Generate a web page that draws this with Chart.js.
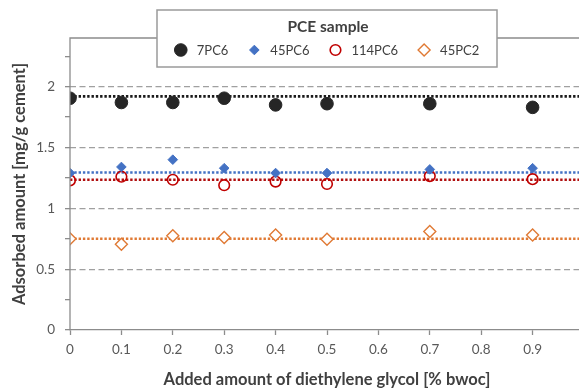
<!DOCTYPE html>
<html>
<head>
<meta charset="utf-8">
<script src="https://cdn.jsdelivr.net/npm/chart.js@4/dist/chart.umd.min.js"></script>
<style>
  html, body { margin: 0; padding: 0; background: #fff; overflow: hidden; }
  #wrap { position: relative; width: 600px; height: 390px; }
</style>
</head>
<body>
<div id="wrap"><canvas id="adsChart"></canvas></div>
<script>
// values
const doses = [0, 0.1, 0.2, 0.3, 0.4, 0.5, 0.7, 0.9];
const pc7 = [1.905, 1.87, 1.87, 1.905, 1.85, 1.86, 1.86, 1.83];
const pc45 = [1.29, 1.34, 1.40, 1.33, 1.29, 1.29, 1.32, 1.33];
const pc114 = [1.23, 1.26, 1.235, 1.19, 1.22, 1.20, 1.265, 1.24];
const pc45c2 = [0.75, 0.705, 0.775, 0.76, 0.78, 0.745, 0.81, 0.78];

// dotted trend lines (start / end)
const trendX = [0, 1];
const trend7 = [1.92, 1.92];
const trend45 = [1.295, 1.295];
const trend114 = [1.235, 1.235];
const trend45c2 = [0.75, 0.75];

const seriesNames = ['7PC6', '45PC6', '114PC6', '45PC2'];
const xTickLabels = ['0', '0.1', '0.2', '0.3', '0.4', '0.5', '0.6', '0.7', '0.8', '0.9', '1'];
const yTickLabels = ['0', '0.5', '1', '1.5', '2'];
const legendTitle = 'PCE sample';

const FONT = 'Lato, "DejaVu Sans", sans-serif';
const AXIS_GREY = '#8c8c8c';

function pts(xs, ys) {
  return xs.map((x, i) => ({ x: x, y: ys[i] }));
}

function trend(ys, color) {
  return {
    isTrend: true,
    data: pts(trendX, ys),
    showLine: true,
    borderColor: color,
    borderWidth: 2.6,
    borderDash: [2.4, 1.9],
    borderCapStyle: 'butt',
    pointRadius: 0,
    fill: false,
    order: 10
  };
}

// solid frame lines (left axis + top) and the legend box
const frameAndLegend = {
  id: 'frameAndLegend',
  afterDraw(chart) {
    const ctx = chart.ctx;
    const area = chart.chartArea;
    ctx.save();
    ctx.strokeStyle = AXIS_GREY;
    ctx.lineWidth = 1.3;
    ctx.beginPath();
    ctx.moveTo(area.left, area.bottom);
    ctx.lineTo(area.left, area.top);
    ctx.lineTo(area.right, area.top);
    ctx.stroke();

    const bx = 157, by = 10, bw = 340, bh = 57;
    ctx.fillStyle = '#fff';
    ctx.fillRect(bx, by, bw, bh);
    ctx.strokeStyle = '#9a9a9a';
    ctx.lineWidth = 1.5;
    ctx.strokeRect(bx, by, bw, bh);

    ctx.fillStyle = '#404040';
    ctx.font = 'bold 15.5px ' + FONT;
    ctx.textAlign = 'center';
    ctx.textBaseline = 'middle';
    ctx.fillText(legendTitle, bx + bw / 2 + 1, 27);

    ctx.font = '13px ' + FONT;
    const items = chart.data.datasets.filter(d => !d.isTrend);
    const widths = items.map(d => ctx.measureText(d.label).width);
    const markGap = 16, itemGap = 26;
    let total = 0;
    widths.forEach((w, i) => { total += markGap + w + (i < widths.length - 1 ? itemGap : 0); });
    total += 6;
    let x = bx + bw / 2 - total / 2 + 6;
    const y = 50;
    ctx.textAlign = 'left';
    items.forEach((d, i) => {
      ctx.fillStyle = d.pointBackgroundColor;
      ctx.strokeStyle = d.pointBorderColor;
      ctx.lineWidth = d.pointBorderWidth;
      ctx.beginPath();
      if (d.pointStyle === 'circle') {
        ctx.arc(x, y, d.pointRadius, 0, Math.PI * 2);
      } else {
        const r = d.pointRadius;
        ctx.moveTo(x - r, y); ctx.lineTo(x, y - r); ctx.lineTo(x + r, y); ctx.lineTo(x, y + r);
        ctx.closePath();
      }
      ctx.fill();
      ctx.stroke();
      ctx.fillStyle = '#404040';
      ctx.fillText(d.label, x + markGap, y + 1);
      x += markGap + widths[i] + itemGap;
    });
    ctx.restore();
  }
};

const ctx = document.getElementById('adsChart');
new Chart(ctx, {
  type: 'scatter',
  data: {
    datasets: [
      {
        label: seriesNames[0],
        data: pts(doses, pc7),
        pointStyle: 'circle',
        pointRadius: 6.3,
        pointBackgroundColor: '#262626',
        pointBorderColor: '#262626',
        pointBorderWidth: 1,
        order: 1
      },
      {
        label: seriesNames[1],
        data: pts(doses, pc45),
        pointStyle: 'rectRot',
        pointRadius: 4.8,
        pointBackgroundColor: '#4472c4',
        pointBorderColor: '#4472c4',
        pointBorderWidth: 1,
        order: 0
      },
      {
        label: seriesNames[2],
        data: pts(doses, pc114),
        pointStyle: 'circle',
        pointRadius: 5.3,
        pointBackgroundColor: 'rgba(255,255,255,0)',
        pointBorderColor: '#c00000',
        pointBorderWidth: 1.6,
        order: 2
      },
      {
        label: seriesNames[3],
        data: pts(doses, pc45c2),
        pointStyle: 'rectRot',
        pointRadius: 6,
        pointBackgroundColor: '#ffffff',
        pointBorderColor: '#e07a35',
        pointBorderWidth: 1.4,
        order: 3
      },
      trend(trend7, '#1a1a1a'),
      trend(trend45, '#4472c4'),
      trend(trend114, '#b01010'),
      trend(trend45c2, '#e07a35')
    ]
  },
  options: {
    responsive: true,
    maintainAspectRatio: false,
    animation: false,
    layout: { padding: { top: 38, right: 16, bottom: 0, left: 0 } },
    scales: {
      x: {
        type: 'linear',
        min: 0,
        max: 1,
        afterFit: (s) => { s.height = 60; },
        afterBuildTicks: (s) => { s.ticks = xTickLabels.map(v => ({ value: parseFloat(v) })); },
        border: { color: AXIS_GREY, width: 1.3 },
        grid: {
          drawOnChartArea: false,
          drawTicks: true,
          tickLength: 5,
          tickColor: AXIS_GREY,
          tickWidth: 1.3
        },
        ticks: {
          padding: 7,
          color: '#595959',
          font: { family: FONT, size: 13.5 },
          maxRotation: 0,
          autoSkip: false,
          callback: (v, i) => xTickLabels[i]
        },
        title: {
          display: true,
          text: 'Added amount of diethylene glycol [% bwoc]',
          color: '#404040',
          font: { family: FONT, size: 16.5, weight: 'bold' },
          padding: { top: 0, bottom: 0 }
        }
      },
      y: {
        min: 0,
        max: 2.4,
        afterFit: (s) => { s.width = 70; },
        afterBuildTicks: (s) => {
          const t = [];
          for (let i = 0; i <= 9; i++) t.push({ value: i * 0.25 });
          s.ticks = t;
        },
        // border.dash dashes the grid lines; the axis line itself is drawn by the plugin
        border: { display: false, dash: [6, 3.5] },
        grid: {
          color: (c) => (c.tick && Math.abs(c.tick.value * 2 - Math.round(c.tick.value * 2)) < 1e-6 && c.tick.value > 0) ? '#a0a0a0' : 'rgba(0,0,0,0)',
          lineWidth: 1.3,
          drawTicks: true,
          tickLength: 5,
          tickColor: AXIS_GREY,
          tickWidth: 1.3,
          tickBorderDash: []
        },
        ticks: {
          padding: 10,
          color: '#595959',
          font: { family: FONT, size: 13.5 },
          autoSkip: false,
          callback: (v) => {
            const idx = yTickLabels.indexOf(String(Math.round(v * 100) / 100));
            return idx >= 0 ? yTickLabels[idx] : '';
          }
        },
        title: {
          display: true,
          text: 'Adsorbed amount [mg/g cement]',
          color: '#404040',
          font: { family: FONT, size: 16.5, weight: 'bold' },
          padding: { top: 10, bottom: 0 }
        }
      }
    },
    plugins: {
      legend: { display: false },
      tooltip: { enabled: false }
    }
  },
  plugins: [frameAndLegend]
});
</script>
</body>
</html>
